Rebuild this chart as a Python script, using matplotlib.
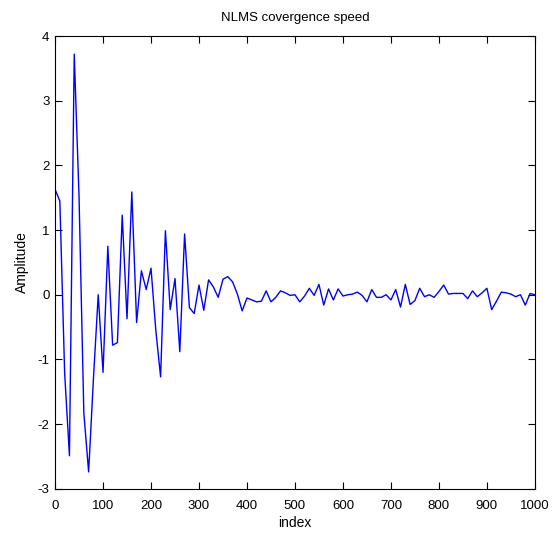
import matplotlib
matplotlib.use("Agg")
import matplotlib.pyplot as plt
import numpy as np

plt.rcParams['font.family'] = ['Liberation Sans', 'DejaVu Sans']
plt.rcParams['axes.unicode_minus'] = False

# sample index, every 10 steps
index = np.arange(0, 1001, 10)
amplitude = [
    1.63, 1.45, -1.21, -2.49, 3.72, 1.52, -1.83, -2.74, -1.3, 0.0,
    -1.2, 0.75, -0.78, -0.74, 1.23, -0.37, 1.59, -0.43, 0.37, 0.08,
    0.41, -0.55, -1.27, 0.99, -0.23, 0.25, -0.88, 0.94, -0.2, -0.29,
    0.15, -0.24, 0.23, 0.12, -0.04, 0.24, 0.28, 0.2, 0.01, -0.25,
    -0.05, -0.08, -0.11, -0.1, 0.06, -0.11, -0.04, 0.06, 0.03, -0.01,
    0.0, -0.11, -0.02, 0.1, -0.01, 0.16, -0.16, 0.09, -0.08, 0.09,
    -0.02, 0.0, 0.01, 0.04, -0.01, -0.11, 0.08, -0.04, -0.04, 0.0,
    -0.08, 0.08, -0.19, 0.16, -0.15, -0.09, 0.1, -0.03, 0.0, -0.04,
    0.05, 0.15, 0.01, 0.02, 0.02, 0.02, -0.06, 0.06, -0.03, 0.03,
    0.1, -0.23, -0.1, 0.04, 0.03, 0.01, -0.03, 0.0, -0.16, 0.02,
    0.0,
]

fig = plt.figure(figsize=(5.56, 5.35), dpi=100)
ax = fig.add_axes([0.099, 0.0865, 0.863, 0.846])
ax.plot(index, amplitude, color='blue', linewidth=1.0)

ax.set_xlim(0, 1000)
ax.set_ylim(-3, 4)
ax.set_xticks(np.arange(0, 1001, 100))
ax.set_yticks(np.arange(-3, 5, 1))
ax.tick_params(direction='in', top=True, right=True, labelsize=9.5, length=5)
ax.tick_params(axis='x', pad=8)
ax.tick_params(axis='y', pad=4)
for s in ax.spines.values():
    s.set_linewidth(0.8)

ax.set_title('NLMS covergence speed', fontsize=9.5, pad=11)
ax.set_xlabel('index', fontsize=10, labelpad=3)
ax.set_ylabel('Amplitude', fontsize=10, labelpad=6)

fig.savefig('out.png', dpi=100)
